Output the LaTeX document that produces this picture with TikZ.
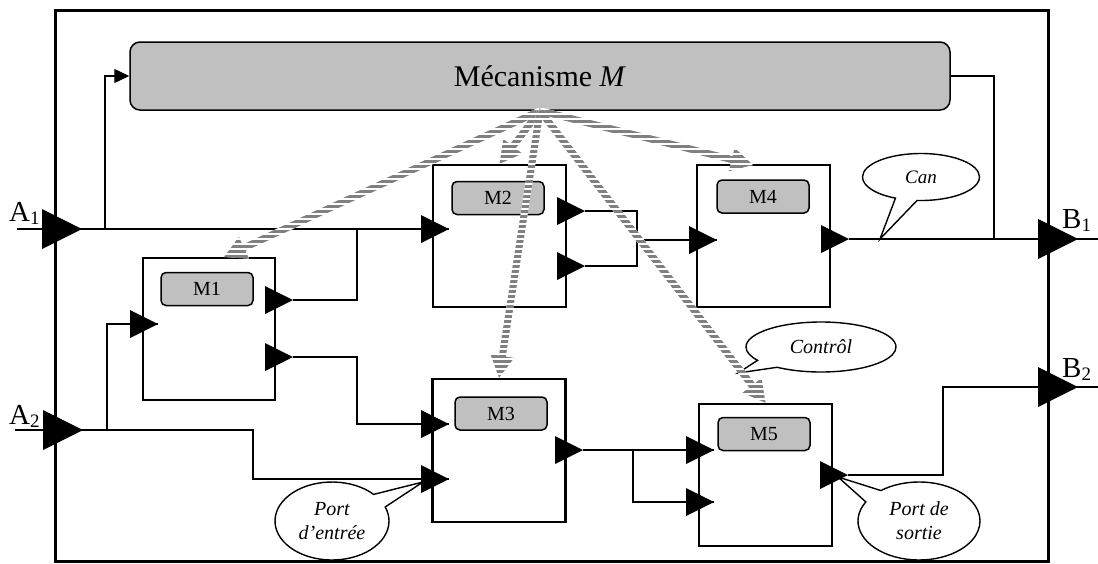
\documentclass[tikz,border=0pt]{standalone}
\usepackage{fontspec}
\setmainfont{Liberation Serif}
\usetikzlibrary{calc,arrows.meta,shapes.callouts}
\definecolor{boxgray}{HTML}{C0C0C0}
\definecolor{stripegray}{HTML}{808080}
\newcommand\porttri[3]{\coordinate (#1) at (#2); \fill (#1) -- ++({-#3},{#3/2}) -- ++(0,{-#3}) -- cycle;}
\newcommand\stripearrow[2]{%
  \coordinate (sb) at ($(#2)!22pt!(#1)$);
  \coordinate (s1) at ($(#1)!3.5pt!90:(sb)$);
  \coordinate (s2) at ($(sb)!3.5pt!-90:(#1)$);
  \coordinate (s3) at ($(sb)!3.5pt!90:(#1)$);
  \coordinate (s4) at ($(#1)!3.5pt!-90:(sb)$);
  \coordinate (h1) at ($(sb)!12pt!90:(#2)$);
  \coordinate (h2) at ($(sb)!12pt!-90:(#2)$);
  \begin{scope}
  \fill[white] (s1) -- (s2) -- (s3) -- (s4) -- cycle (#2) -- (h1) -- (h2) -- cycle;
  \clip (s1) -- (s2) -- (s3) -- (s4) -- cycle (#2) -- (h1) -- (h2) -- cycle;
  \foreach \yy in {100,105,...,420} \fill[stripegray] (0,\yy) rectangle (1098,{\yy+3.2});
  \end{scope}}
\begin{document}
\begin{tikzpicture}[x=1pt,y=-1pt,
  conn/.style={line width=1.4pt},
  modbox/.style={draw, line width=2.4pt, minimum width=133pt, minimum height=142pt, inner sep=0pt},
  tagbox/.style={draw, fill=boxgray, line width=1.5pt, rounded corners=5pt, minimum width=92pt, minimum height=33pt, inner sep=0pt, font=\fontsize{20}{20}\selectfont},
  bubble/.style={ellipse callout, draw, fill=white, line width=1.4pt, inner sep=0pt, callout pointer arc=22, align=center, font=\fontsize{20}{24}\selectfont\itshape},
  lab/.style={anchor=base west, inner sep=0pt, font=\fontsize{29}{29}\selectfont}]
\useasboundingbox (0,0) rectangle (1098,563);
\draw[line width=3pt] (55,10) rectangle (1048,561);
\node[draw, fill=boxgray, line width=1.5pt, rounded corners=10pt, minimum width=820pt, minimum height=68pt, inner sep=0pt, font=\fontsize{30}{30}\selectfont] (mec) at (540,76) {Mécanisme \textit{M}};
% modules
\node[modbox, minimum width=132pt] (M1) at (209,329) {};
\node[modbox] (M2) at (499.5,236) {};
\node[modbox] (M4) at (763.5,236) {};
\node[modbox, minimum height=143pt] (M3) at (499,450.5) {};
\node[modbox] (M5) at (765.5,475) {};
\node[tagbox] (t1) at (207,289) {M1};
\node[tagbox] (t2) at (498,198) {M2};
\node[tagbox] (t4) at (763,196.5) {M4};
\node[tagbox] (t3) at (501,413.5) {M3};
\node[tagbox] (t5) at (764,434) {M5};
% ports
\porttri{A1}{82,229}{40}
\porttri{A2}{83,430}{40}
\porttri{B1}{1078,239}{40}
\porttri{B2}{1078,387}{40}
\porttri{M1i}{158,324}{28} \porttri{M1o1}{293,300}{28} \porttri{M1o2}{293,357}{28}
\porttri{M2i}{449,229}{28} \porttri{M2o1}{585,211}{28} \porttri{M2o2}{585,266}{28}
\porttri{M4i}{717,240}{28} \porttri{M4o}{849,239}{28}
\porttri{M3i1}{449,424}{28} \porttri{M3i2}{449,479}{28} \porttri{M3o}{583,450}{28}
\porttri{M5i1}{714,450}{28} \porttri{M5i2}{714,502}{28} \porttri{M5o}{848,475}{28}
% junctions
\coordinate (A1src) at (17,229); \coordinate (A2src) at (15,430);
\coordinate (B1out) at (1098,239); \coordinate (B2out) at (1098,387);
\coordinate (j1) at (105,229); \coordinate (j2) at (357,229); \coordinate (j3) at (357,424);
\coordinate (j4) at (107,430); \coordinate (j5) at (253,479); \coordinate (j6) at (637,240);
\coordinate (j7) at (994,239); \coordinate (j8) at (633,450); \coordinate (j9) at (943,387);
% connectors
\draw[conn] (A1src) -- (A1);
\draw[conn] (A1) -- (M2i);
\draw[conn, -{Triangle[length=15pt,width=14pt]}] (j1) |- (mec.west);
\draw[conn] (M1o1) -| (j2);
\draw[conn] (M1o2) -| (j3) -- (M3i1);
\draw[conn] (A2src) -- (A2);
\draw[conn] (A2) -| (j5) -- (M3i2);
\draw[conn] (j4) |- (M1i);
\draw[conn] (M2o1) -| (j6);
\draw[conn] (M2o2) -| (j6);
\draw[conn] (j6) -- (M4i);
\draw[conn] (M4o) -- (B1);
\draw[conn] (B1) -- (B1out);
\draw[conn] (mec.east) -| (j7);
\draw[conn] (M3o) -- (M5i1);
\draw[conn] (j8) |- (M5i2);
\draw[conn] (M5o) -| (j9) -- (B2);
\draw[conn] (B2) -- (B2out);
% callouts
\coordinate (cantip) at (880,239);
\coordinate (ctip) at (738,373);
\coordinate (petip) at (423,482);
\coordinate (pstip) at (838,477);
\node[bubble, minimum width=117pt, minimum height=47pt, callout absolute pointer={(cantip)}, font=\fontsize{19}{20}\selectfont\itshape] (can) at (921,177) {Can};
\node[bubble, minimum width=150pt, minimum height=50pt, callout absolute pointer={(ctip)}] (ctl) at (821,347) {Contrôl};
\node[bubble, minimum width=114pt, minimum height=78pt, callout absolute pointer={(petip)}] (pe) at (332,521) {Port\\d’entrée};
\node[bubble, minimum width=122pt, minimum height=78pt, callout absolute pointer={(pstip)}] (ps) at (919,521) {Port de\\sortie};
% striped control arrows
\coordinate (d1) at (224,257);
\coordinate (d4) at (753,165);
\stripearrow{mec.south}{d1}
\stripearrow{mec.south}{M2.north}
\stripearrow{mec.south}{M3.north}
\stripearrow{mec.south}{d4}
\stripearrow{mec.south}{M5.north}
% labels
\node[lab] (la1) at (9,221) {A\raisebox{-3pt}{\fontsize{19}{19}\selectfont 1}};
\node[lab] (la2) at (9,424) {A\raisebox{-3pt}{\fontsize{19}{19}\selectfont 2}};
\node[lab] (lb1) at (1062,228) {B\raisebox{-3pt}{\fontsize{19}{19}\selectfont 1}};
\node[lab] (lb2) at (1062,377) {B\raisebox{-3pt}{\fontsize{19}{19}\selectfont 2}};
\end{tikzpicture}
\end{document}
